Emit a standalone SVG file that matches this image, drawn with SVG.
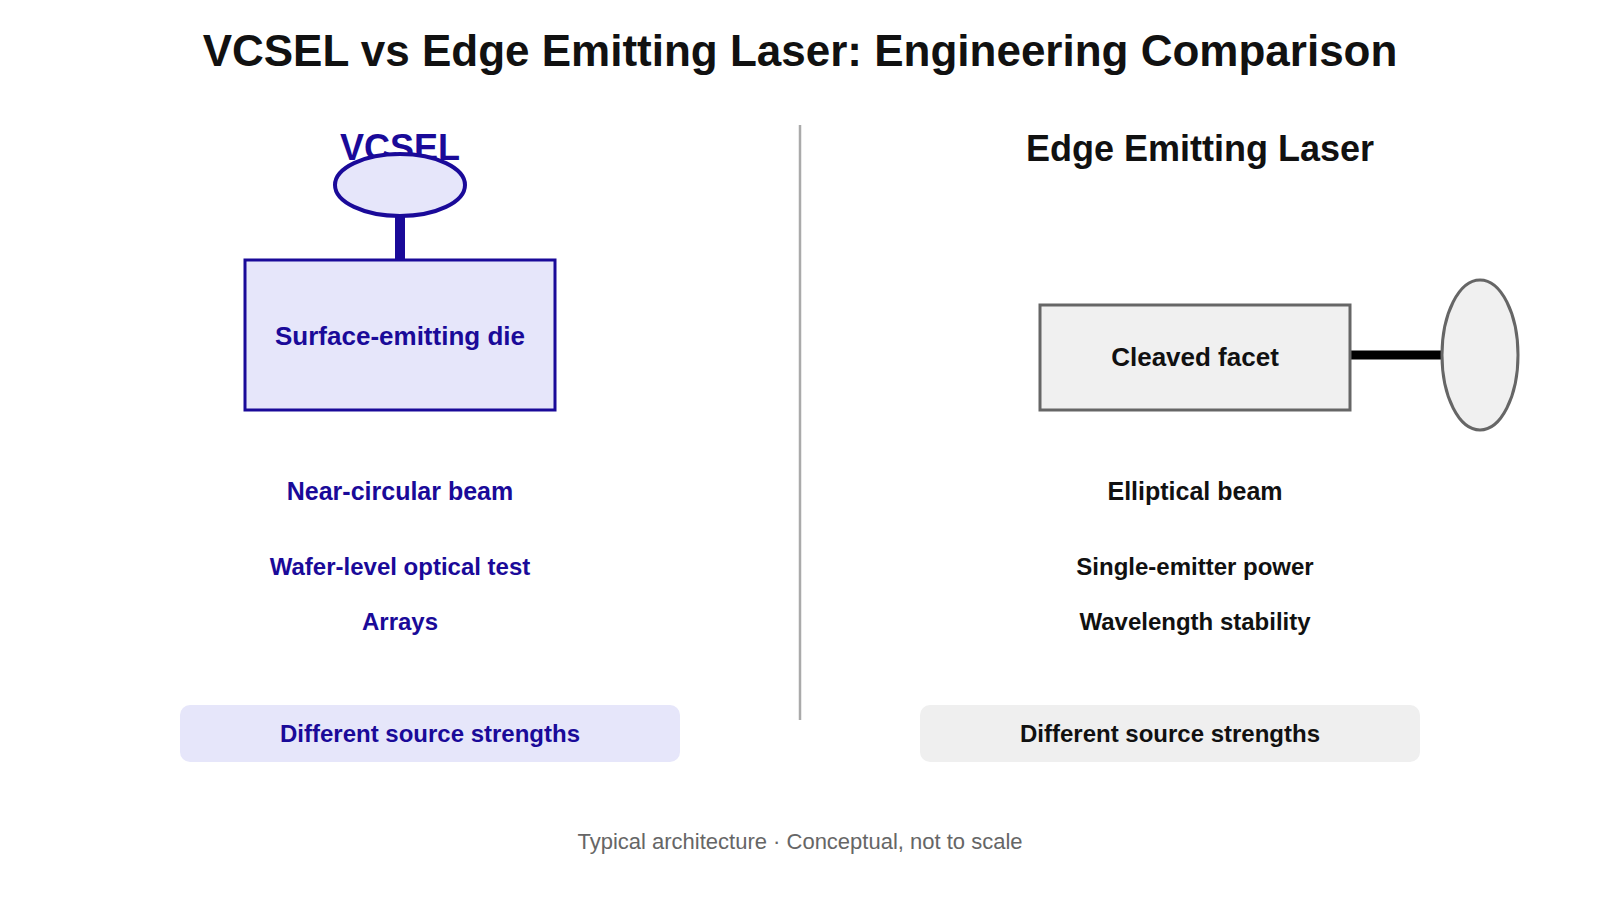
<svg xmlns="http://www.w3.org/2000/svg" width="1600" height="900" viewBox="0 0 1600 900">
<style>
text{font-family:"Liberation Sans",Arial,sans-serif;text-anchor:middle;font-weight:bold}
.v{fill:#1a0a99}
.e{fill:#111}
.vshape{fill:#e6e6fa;stroke:#1a0a99}
.eshape{fill:#f0f0f0;stroke:#666}
.row{font-size:24px}
.beam{font-size:25px}
.lbl{font-size:26px}
.foot{font-weight:normal;font-size:22px;fill:#666}
</style>
<rect width="1600" height="900" fill="#fff"/>
<text x="800" y="66" font-size="44" fill="#111">VCSEL vs Edge Emitting Laser: Engineering Comparison</text>
<line x1="800" y1="125" x2="800" y2="720" stroke="#aaa" stroke-width="2.5"/>
<g id="connectors">
<line x1="400" y1="215" x2="400" y2="260" stroke="#1a0a99" stroke-width="10"/>
<line x1="1350" y1="355" x2="1443" y2="355" stroke="#000" stroke-width="9"/>
</g>
<g id="vcsel-title"><text class="v" x="400" y="160" font-size="36">VCSEL</text></g>
<g id="vcsel-emitter"><ellipse class="vshape" cx="400" cy="185" rx="65" ry="31" stroke-width="4"/></g>
<g id="vcsel-die"><rect class="vshape" x="245" y="260" width="310" height="150" stroke-width="3"/><text class="v lbl" x="400" y="345">Surface-emitting die</text></g>
<g id="vcsel-beam"><text class="v beam" x="400" y="500">Near-circular beam</text></g>
<g id="vcsel-test"><text class="v row" x="400" y="575">Wafer-level optical test</text></g>
<g id="vcsel-arrays"><text class="v row" x="400" y="630">Arrays</text></g>
<g id="vcsel-summary"><rect x="180" y="705" width="500" height="57" rx="10" fill="#e6e6fa"/><text class="v row" x="430" y="742">Different source strengths</text></g>
<g id="eel-title"><text class="e" x="1200" y="161" font-size="36">Edge Emitting Laser</text></g>
<g id="eel-facet"><rect class="eshape" x="1040" y="305" width="310" height="105" stroke-width="3"/><text class="e lbl" x="1195" y="366">Cleaved facet</text></g>
<g id="eel-emitter"><ellipse class="eshape" cx="1480" cy="355" rx="38" ry="75" stroke-width="3"/></g>
<g id="eel-beam"><text class="e beam" x="1195" y="500">Elliptical beam</text></g>
<g id="eel-power"><text class="e row" x="1195" y="575">Single-emitter power</text></g>
<g id="eel-stability"><text class="e row" x="1195" y="630">Wavelength stability</text></g>
<g id="eel-summary"><rect x="920" y="705" width="500" height="57" rx="10" fill="#efefef"/><text class="e row" x="1170" y="742">Different source strengths</text></g>
<text class="foot" x="800" y="849">Typical architecture · Conceptual, not to scale</text>
</svg>
